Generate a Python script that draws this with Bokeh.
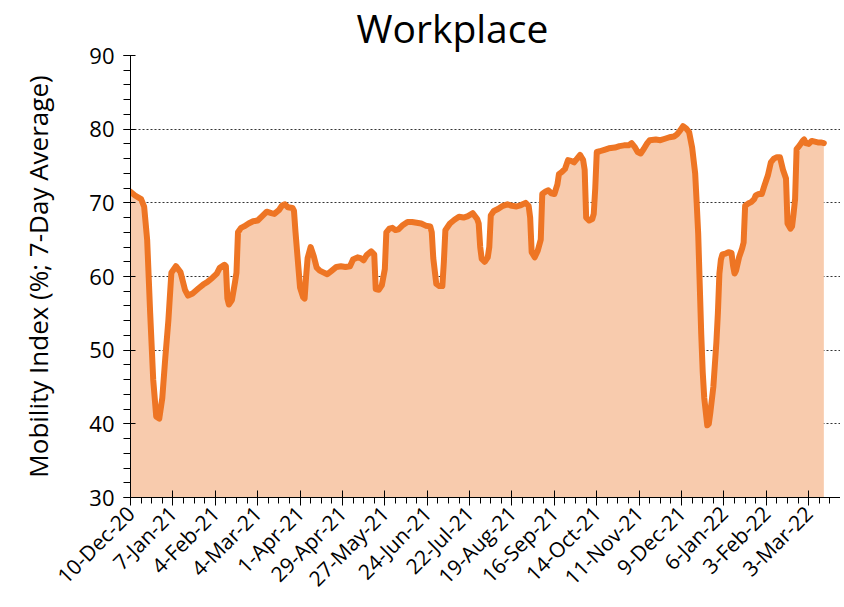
import math
import pandas as pd
from bokeh.plotting import figure
from bokeh.models import FixedTicker, Range1d
from bokeh.embed import file_html
from bokeh.resources import INLINE

START_DATE = "2020-12-10"

# days since START_DATE
day = [0, 3, 7, 9, 11, 13, 15, 17, 19, 21, 23, 25, 27, 30, 33, 36, 38, 41, 45, 48,
       51, 54, 57, 59, 62, 63, 64, 65, 67, 69, 70, 71, 73, 75, 78, 81, 84, 87, 90, 93,
       95, 98, 100, 102, 104, 107, 108, 109, 110, 112, 114, 115, 116, 117, 119, 121, 123, 125, 127, 130,
       133, 136, 139, 142, 145, 147, 150, 152, 154, 156, 159, 161, 162, 164, 166, 168, 169, 171, 173, 175,
       177, 180, 183, 186, 189, 192, 195, 198, 199, 200, 202, 204, 206, 207, 208, 211, 214, 217, 220, 223,
       226, 229, 230, 231, 232, 234, 236, 237, 238, 240, 243, 246, 249, 252, 255, 258, 261, 263, 264, 265,
       267, 269, 271, 272, 274, 276, 278, 280, 282, 283, 285, 287, 289, 291, 293, 295, 297, 299, 300, 301,
       303, 305, 306, 307, 308, 310, 313, 316, 320, 323, 326, 329, 331, 333, 335, 337, 339, 341, 343, 347,
       350, 353, 356, 359, 361, 363, 365, 367, 369, 371, 373, 374, 375, 376, 377, 378, 379, 381, 382, 383,
       385, 386, 387, 388, 389, 390, 391, 393, 395, 397, 398, 399, 400, 402, 404, 405, 406, 408, 410, 412,
       413, 415, 417, 419, 421, 423, 425, 427, 429, 431, 433, 434, 436, 437, 438, 439, 440, 442, 444, 445,
       446, 448, 450, 452, 454, 456, 458]

mobility = [71.5, 71.0, 70.5, 69.5, 65.0, 55.0, 46.0, 41.0, 40.7, 43.5, 49.0, 54.0, 60.5, 61.4, 60.6, 58.2, 57.4, 57.7, 58.4, 58.9,
            59.3, 59.8, 60.4, 61.2, 61.6, 61.4, 57.0, 56.2, 56.8, 59.2, 60.5, 66.0, 66.6, 66.8, 67.2, 67.5, 67.6, 68.2, 68.8, 68.6,
            68.5, 69.0, 69.6, 69.8, 69.4, 69.3, 68.9, 66.0, 63.5, 58.5, 57.2, 57.0, 60.0, 62.5, 64.0, 62.8, 61.2, 60.8, 60.6, 60.3,
            60.8, 61.3, 61.4, 61.3, 61.4, 62.3, 62.6, 62.5, 62.2, 62.9, 63.4, 63.0, 58.3, 58.2, 58.8, 61.0, 66.0, 66.5, 66.6, 66.3,
            66.4, 67.0, 67.4, 67.4, 67.3, 67.2, 66.9, 66.8, 66.0, 62.5, 59.0, 58.7, 58.7, 62.0, 66.3, 67.2, 67.7, 68.1, 68.0, 68.2,
            68.6, 67.8, 67.2, 64.0, 62.4, 62.0, 62.6, 64.0, 68.3, 68.9, 69.2, 69.6, 69.8, 69.6, 69.5, 69.7, 70.0, 69.6, 68.0, 63.3,
            62.6, 63.5, 65.0, 71.2, 71.5, 71.7, 71.3, 71.2, 72.5, 73.9, 74.2, 74.6, 75.8, 75.7, 75.5, 76.0, 76.5, 75.8, 74.5, 68.0,
            67.6, 67.8, 68.5, 72.0, 76.9, 77.0, 77.2, 77.4, 77.5, 77.7, 77.8, 77.8, 78.1, 77.6, 76.9, 76.7, 77.3, 78.0, 78.5, 78.6,
            78.5, 78.7, 78.9, 79.0, 79.3, 79.8, 80.4, 80.1, 79.6, 77.5, 74.0, 70.0, 65.8, 59.0, 52.2, 47.0, 43.5, 39.8, 40.0, 41.5,
            45.0, 48.0, 51.0, 55.0, 60.4, 62.3, 63.0, 63.1, 63.3, 63.2, 61.5, 60.4, 60.8, 62.6, 63.8, 64.6, 69.6, 69.9, 70.1, 70.5,
            71.0, 71.2, 71.2, 72.5, 73.7, 75.5, 76.0, 76.2, 76.2, 74.5, 73.3, 67.2, 66.5, 66.8, 68.5, 70.5, 77.3, 77.8, 78.4, 78.6,
            78.1, 78.0, 78.4, 78.3, 78.2, 78.2, 78.1]

tick_days = [0, 28, 56, 84, 112, 140, 168, 196, 224, 252, 280, 308, 336, 364, 392, 420, 448]
y_ticks = [30, 40, 50, 60, 70, 80, 90]

start = pd.Timestamp(START_DATE)
tick_labels = {d: (start + pd.Timedelta(days=d)).strftime("%-d-%b-%y") for d in tick_days}

FONT = "Open Sans"
LINE = "#EE7524"
FILL = "#F8CBAD"

p = figure(width=840, height=605, output_backend="svg", toolbar_location=None,
           x_range=Range1d(0, 469), y_range=Range1d(30, 90),
           min_border_left=130, min_border_right=0, min_border_top=55, min_border_bottom=108)
p.outline_line_color = None
p.background_fill_color = "white"

p.varea(x=day, y1=30, y2=mobility, fill_color=FILL, fill_alpha=1.0)
p.line(x=day, y=mobility, line_color=LINE, line_width=6, line_join="round", line_cap="round")

p.title.text = "Workplace"
p.title.text_font = FONT
p.title.text_font_size = "39px"
p.title.text_font_style = "normal"
p.title.align = "left"
p.title.vertical_align = "top"
p.title.offset = 226
p.title.standoff = 0
p.title.text_color = "black"

xt = FixedTicker(ticks=tick_days, minor_ticks=list(range(0, 470, 7)))
yt = FixedTicker(ticks=y_ticks, minor_ticks=list(range(30, 91, 2)))
p.xaxis.ticker = xt
p.yaxis.ticker = yt
p.xaxis.major_label_overrides = tick_labels
p.xaxis.major_label_orientation = math.pi / 4
p.xgrid.visible = False
p.ygrid.ticker = yt
p.ygrid.grid_line_color = "#333333"
p.ygrid.grid_line_dash = "2 2"
p.ygrid.grid_line_width = 1

for ax in (p.xaxis, p.yaxis):
    ax.axis_line_color = "black"
    ax.major_tick_line_color = "black"
    ax.minor_tick_line_color = "black"
    ax.major_label_text_font = FONT
    ax.major_label_text_color = "black"

p.xaxis.major_tick_in = 7
p.xaxis.major_tick_out = 8
p.xaxis.minor_tick_in = 0
p.xaxis.minor_tick_out = 6
p.xaxis.major_label_text_font_size = "21px"
p.xaxis.major_label_standoff = 4

p.yaxis.major_tick_in = 5
p.yaxis.major_tick_out = 7
p.yaxis.minor_tick_in = 0
p.yaxis.minor_tick_out = 7
p.yaxis.major_label_text_font_size = "22px"
p.yaxis.major_label_standoff = 9
p.yaxis.axis_label = "Mobility Index (%; 7-Day Average)"
p.yaxis.axis_label_text_font = FONT
p.yaxis.axis_label_text_font_size = "26px"
p.yaxis.axis_label_text_font_style = "normal"
p.yaxis.axis_label_text_color = "black"
p.yaxis.axis_label_standoff = 30

open("out.html", "w").write(file_html(p, INLINE))
